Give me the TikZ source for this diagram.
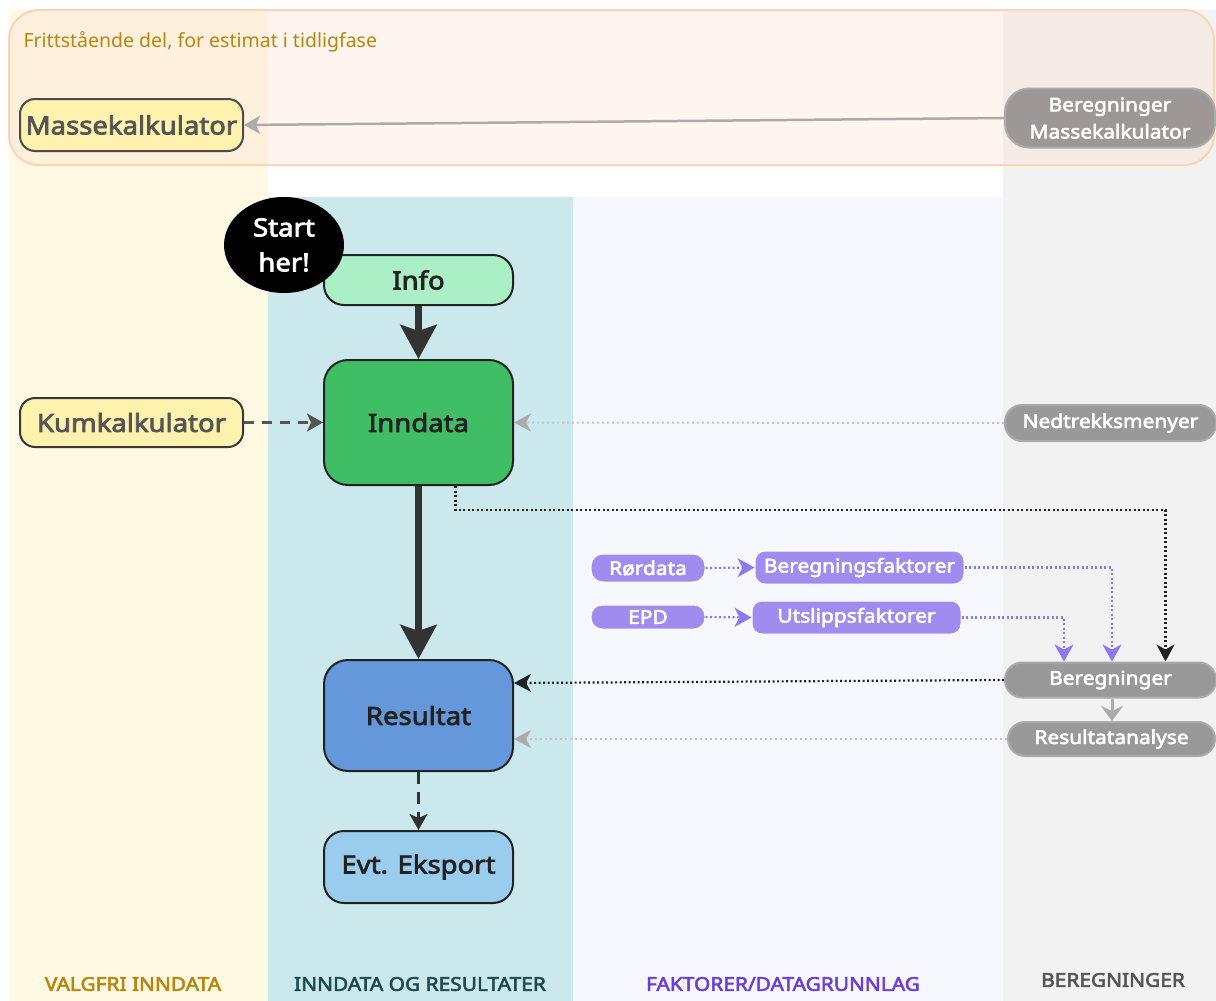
\documentclass[tikz,border=0pt]{standalone}
\usepackage{fontspec}
\usepackage{graphicx}
\setmainfont{Noto Sans}[BoldFont={Noto Sans}, BoldFeatures={FakeBold=3, FakeStretch=1.1}]
\usetikzlibrary{arrows.meta,shapes.geometric,positioning}
\definecolor{laneA}{HTML}{FEF9E3}
\definecolor{laneB}{HTML}{CBE9ED}
\definecolor{laneC}{HTML}{F7F8FE}
\definecolor{laneD}{HTML}{F2F2F2}
\definecolor{topfill}{HTML}{FFDECD}
\definecolor{topline}{HTML}{F9D5B6}
\definecolor{goldtxt}{HTML}{B5870F}
\definecolor{tealtxt}{HTML}{1D4A4F}
\definecolor{purtxt}{HTML}{6A3EDB}
\definecolor{graytxt}{HTML}{555555}
\definecolor{yelbox}{HTML}{FFF2AE}
\definecolor{infofill}{HTML}{ABEFC6}
\definecolor{inndfill}{HTML}{40BE65}
\definecolor{resfill}{HTML}{6597DB}
\definecolor{eksfill}{HTML}{9ACCEE}
\definecolor{darkline}{HTML}{222222}
\definecolor{grayfill}{HTML}{999999}
\definecolor{grayline}{HTML}{ABABAB}
\definecolor{grayfillB}{HTML}{9D9895}
\definecolor{purfill}{HTML}{9F8CEE}
\definecolor{purarrow}{HTML}{8E78F0}
\definecolor{lightarrow}{HTML}{ABABAB}
\definecolor{lightdot}{HTML}{C4C4C4}
\definecolor{arrowdark}{HTML}{333333}
\tikzset{
  mainbox/.style={draw=darkline, line width=2pt, rounded corners=20pt, text=darkline,
    font=\bfseries\fontsize{25}{28}\selectfont, minimum width=189pt, inner sep=0pt},
  yelnode/.style={draw=graytxt!90!black, line width=2pt, rounded corners=15pt, fill=yelbox, text=graytxt,
    font=\bfseries\fontsize{25}{28}\selectfont, minimum width=223pt, inner sep=0pt},
  graynode/.style={draw=grayline, line width=2pt, rounded corners=17pt, fill=grayfill, text=white,
    font=\bfseries\fontsize{19}{27}\selectfont, inner sep=0pt, align=center},
  purnode/.style={draw=white, line width=1pt, rounded corners=10pt, fill=purfill, text=white,
    font=\bfseries\fontsize{19}{22}\selectfont, inner sep=0pt},
  lanelabel/.style={font=\bfseries\fontsize{19}{22}\selectfont, anchor=center},
  bigarrow/.style={draw=arrowdark, line width=7pt, -{Stealth[width=36pt,length=34pt,inset=6pt]}},
  dotblack/.style={draw=darkline, line width=2.2pt, dash pattern=on 2pt off 2.5pt, -{Stealth[width=18pt,length=17pt,inset=5pt]}},
  dotgray/.style={draw=lightdot, line width=2pt, dash pattern=on 2pt off 3pt, -{Stealth[width=18pt,length=17pt,inset=5pt,color=lightarrow]}},
  dotpur/.style={draw=purarrow, line width=2.2pt, dash pattern=on 2pt off 2.5pt, -{Stealth[width=19pt,length=17pt,inset=5pt]}},
}
\begin{document}
\begin{tikzpicture}[x=1pt,y=-1pt]
\useasboundingbox (0,0) rectangle (1216,1001);
\fill[white] (0,0) rectangle (1216,1001);
% lanes
\fill[laneA] (9,10) rectangle (268,1001);
\fill[laneB] (268,197) rectangle (573,1001);
\fill[laneC] (573,197) rectangle (1003,1001);
\fill[laneD] (1003,10) rectangle (1216,1001);
% top box
\filldraw[fill=topfill, fill opacity=0.3, draw=topline, line width=2pt, rounded corners=30pt] (9,10) rectangle (1214,165);
\node[anchor=west, text=goldtxt, font=\fontsize{19.5}{22}\selectfont] (fritt) at (20,42) {Frittstående del, for estimat i tidligfase};
% lane labels
\node[lanelabel, text=goldtxt] (lA) at (133,984) {VALGFRI INNDATA};
\node[lanelabel, text=tealtxt] (lB) at (420,984) {INNDATA OG RESULTATER};
\node[lanelabel, text=purtxt] (lC) at (783,984) {FAKTORER/DATAGRUNNLAG};
\node[lanelabel, text=graytxt] (lD) at (1113,980) {BEREGNINGER};
% nodes
\node[yelnode, minimum height=52pt] (masse) at (131.5,125) {Massekalkulator};
\node[graynode, fill=grayfillB, minimum width=210pt, minimum height=59pt, rounded corners=24pt] (bermasse) at (1110,118) {Beregninger\\Massekalkulator};
\node[mainbox, fill=infofill, minimum height=50pt] (info) at (418.5,280) {Info};
\node[ellipse, fill=black, minimum width=120pt, minimum height=96pt, inner sep=0pt, text=white, align=center,
  font=\bfseries\fontsize{25}{35}\selectfont] (start) at (284,245) {Start\\her!};
\node[mainbox, fill=inndfill, minimum height=125pt, rounded corners=24pt] (inndata) at (418.5,422.5) {Inndata};
\node[yelnode, minimum height=49pt, draw=darkline!90] (kum) at (131.5,422.5) {Kumkalkulator};
\node[graynode, minimum width=211pt, minimum height=36pt] (nedtr) at (1110.5,423) {Nedtrekksmenyer};
\node[mainbox, fill=resfill, minimum height=111pt, rounded corners=24pt] (resultat) at (418.5,715.5) {Resultat};
\node[mainbox, fill=eksfill, minimum height=72pt] (eksport) at (418.5,867) {Evt. Eksport};
\node[purnode, minimum width=114pt, minimum height=28pt, rounded corners=12pt] (rordata) at (648,568) {Rørdata};
\node[purnode, minimum width=209pt, minimum height=33pt] (berfak) at (859.5,567.5) {Beregningsfaktorer};
\node[purnode, minimum width=114pt, minimum height=24pt, rounded corners=11pt] (epd) at (648,617) {EPD};
\node[purnode, minimum width=209pt, minimum height=33pt] (utfak) at (856.5,617.5) {Utslippsfaktorer};
\node[graynode, minimum width=211pt, minimum height=35pt] (berg) at (1110.5,680) {Beregninger};
\node[graynode, minimum width=207pt, minimum height=34pt] (resan) at (1111.5,739) {Resultatanalyse};
% connectors
\draw[draw=lightarrow, line width=2.5pt, -{Stealth[width=18pt,length=16pt,inset=4pt]}] (bermasse.west) -- (masse.east);
\draw[bigarrow] (info.south) -- (inndata.north);
\draw[bigarrow] (inndata.south) -- (resultat.north);
\draw[draw=graytxt, line width=2.5pt, dash pattern=on 10pt off 8pt, -{Stealth[width=18pt,length=16pt,inset=4pt]}] (kum.east) -- (inndata.west);
\draw[dotgray] (nedtr.west) -- (inndata.east);
\draw[dotblack] ([xshift=37pt]inndata.south) -- ++(0,24) -| ([xshift=55pt]berg.north);
\draw[dotpur] (rordata.east) -- (berfak.west);
\draw[dotpur] (epd.east) -- (utfak.west);
\draw[dotpur] (berfak.east) -| ([xshift=1.5pt]berg.north);
\draw[dotpur] (utfak.east) -| ([xshift=-46.5pt]berg.north);
\draw[draw=lightarrow, line width=3pt, -{Stealth[width=22pt,length=15pt,inset=5pt]}] ([xshift=1.5pt]berg.south) -- ([xshift=0.5pt]resan.north);
\draw[dotblack] (berg.west) -- ([yshift=32.5pt]resultat.east);
\draw[dotgray] (resan.west) -- ([yshift=-23.5pt]resultat.east);
\draw[draw=arrowdark, line width=2.5pt, dash pattern=on 12pt off 8pt, -{Stealth[width=18pt,length=16pt,inset=4pt]}] (resultat.south) -- (eksport.north);
\end{tikzpicture}
\end{document}
